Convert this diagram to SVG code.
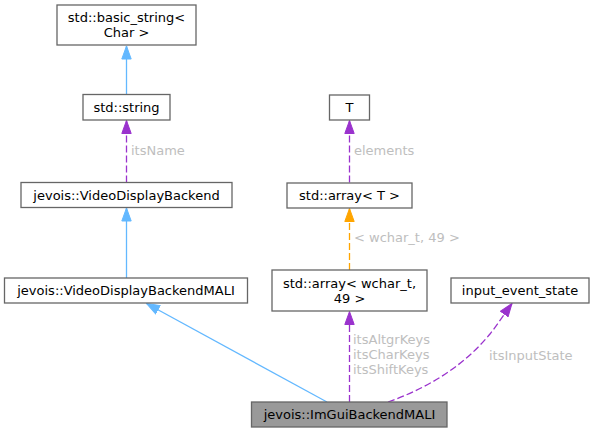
<svg xmlns="http://www.w3.org/2000/svg" width="595" height="433" viewBox="0 0 595 433">
<defs>
<style>
.node rect{fill:#ffffff;stroke:#666666;stroke-width:1.3}
.node.main rect{fill:#999999}
.node text{font-family:"DejaVu Sans",sans-serif;font-size:13px;fill:#000000;text-anchor:middle}
.lbl{font-family:"DejaVu Sans",sans-serif;font-size:13px;fill:#bebebe}
.blue{stroke:#63b8ff;fill:none;stroke-width:1.3}
.purple{stroke:#9a32cd;fill:none;stroke-width:1.3;stroke-dasharray:7,3}
.orange{stroke:#ffa500;fill:none;stroke-width:1.3;stroke-dasharray:7,3}
</style>
<marker id="aBlue" markerUnits="userSpaceOnUse" markerWidth="14" markerHeight="11" viewBox="0 0 14 11" refX="13.5" refY="5.5" orient="auto"><path d="M0.5,0.8 L13.5,5.5 L0.5,10.2 z" fill="#63b8ff" stroke="#63b8ff"/></marker>
<marker id="aPurple" markerUnits="userSpaceOnUse" markerWidth="14" markerHeight="11" viewBox="0 0 14 11" refX="13.5" refY="5.5" orient="auto"><path d="M0.5,0.8 L13.5,5.5 L0.5,10.2 z" fill="#9a32cd" stroke="#9a32cd"/></marker>
<marker id="aOrange" markerUnits="userSpaceOnUse" markerWidth="14" markerHeight="11" viewBox="0 0 14 11" refX="13.5" refY="5.5" orient="auto"><path d="M0.5,0.8 L13.5,5.5 L0.5,10.2 z" fill="#ffa500" stroke="#ffa500"/></marker>
</defs>
<rect x="0" y="0" width="595" height="433" fill="#ffffff"/>
<g id="edges">
<path class="blue" d="M126.5,94.5 L126.5,46" marker-end="url(#aBlue)"/>
<path class="purple" d="M126.5,182.5 L126.5,120.5" marker-end="url(#aPurple)"/>
<path class="blue" d="M126.5,278 L126.5,208" marker-end="url(#aBlue)"/>
<path class="blue" d="M327,402 L146.5,303.5" marker-end="url(#aBlue)"/>
<path class="purple" d="M349.5,182.5 L349.5,120.5" marker-end="url(#aPurple)"/>
<path class="orange" d="M349.5,270 L349.5,208.5" marker-end="url(#aOrange)"/>
<path class="purple" d="M349.5,402 L349.5,311.5" marker-end="url(#aPurple)"/>
<path class="purple" d="M388,402 C425,389 462,368 490,334 C498,324 505,313 512,303.5" marker-end="url(#aPurple)"/>
<text class="lbl" x="131" y="155">itsName</text>
<text class="lbl" x="354" y="155">elements</text>
<text class="lbl" x="354" y="242">&lt; wchar_t, 49 &gt;</text>
<text class="lbl" x="353" y="344">itsAltgrKeys</text>
<text class="lbl" x="353" y="359">itsCharKeys</text>
<text class="lbl" x="353" y="374">itsShiftKeys</text>
<text class="lbl" x="489" y="360">itsInputState</text>
</g>
<g id="n_basic_string" class="node"><rect x="57" y="5" width="139" height="40"/><text x="126.5" y="22">std::basic_string&lt;</text><text x="126.5" y="37">Char &gt;</text></g>
<g id="n_string" class="node"><rect x="83" y="94.5" width="87" height="25.5"/><text x="126.5" y="112">std::string</text></g>
<g id="n_vdb" class="node"><rect x="21" y="182.5" width="211" height="25"/><text x="126.5" y="199.5">jevois::VideoDisplayBackend</text></g>
<g id="n_vdbmali" class="node"><rect x="4.5" y="278" width="243" height="25"/><text x="126" y="295">jevois::VideoDisplayBackendMALI</text></g>
<g id="n_T" class="node"><rect x="329.5" y="95" width="40" height="25"/><text x="349.5" y="112">T</text></g>
<g id="n_array_T" class="node"><rect x="287" y="183" width="125" height="25"/><text x="349.5" y="200">std::array&lt; T &gt;</text></g>
<g id="n_array_wchar" class="node"><rect x="272" y="270" width="155" height="41"/><text x="349.5" y="288">std::array&lt; wchar_t,</text><text x="349.5" y="303">49 &gt;</text></g>
<g id="n_input_event_state" class="node"><rect x="451" y="278" width="138" height="25"/><text x="520" y="295">input_event_state</text></g>
<g id="n_imgui" class="node main"><rect x="251.5" y="402" width="195.5" height="25"/><text x="349.5" y="419">jevois::ImGuiBackendMALI</text></g>
</svg>
